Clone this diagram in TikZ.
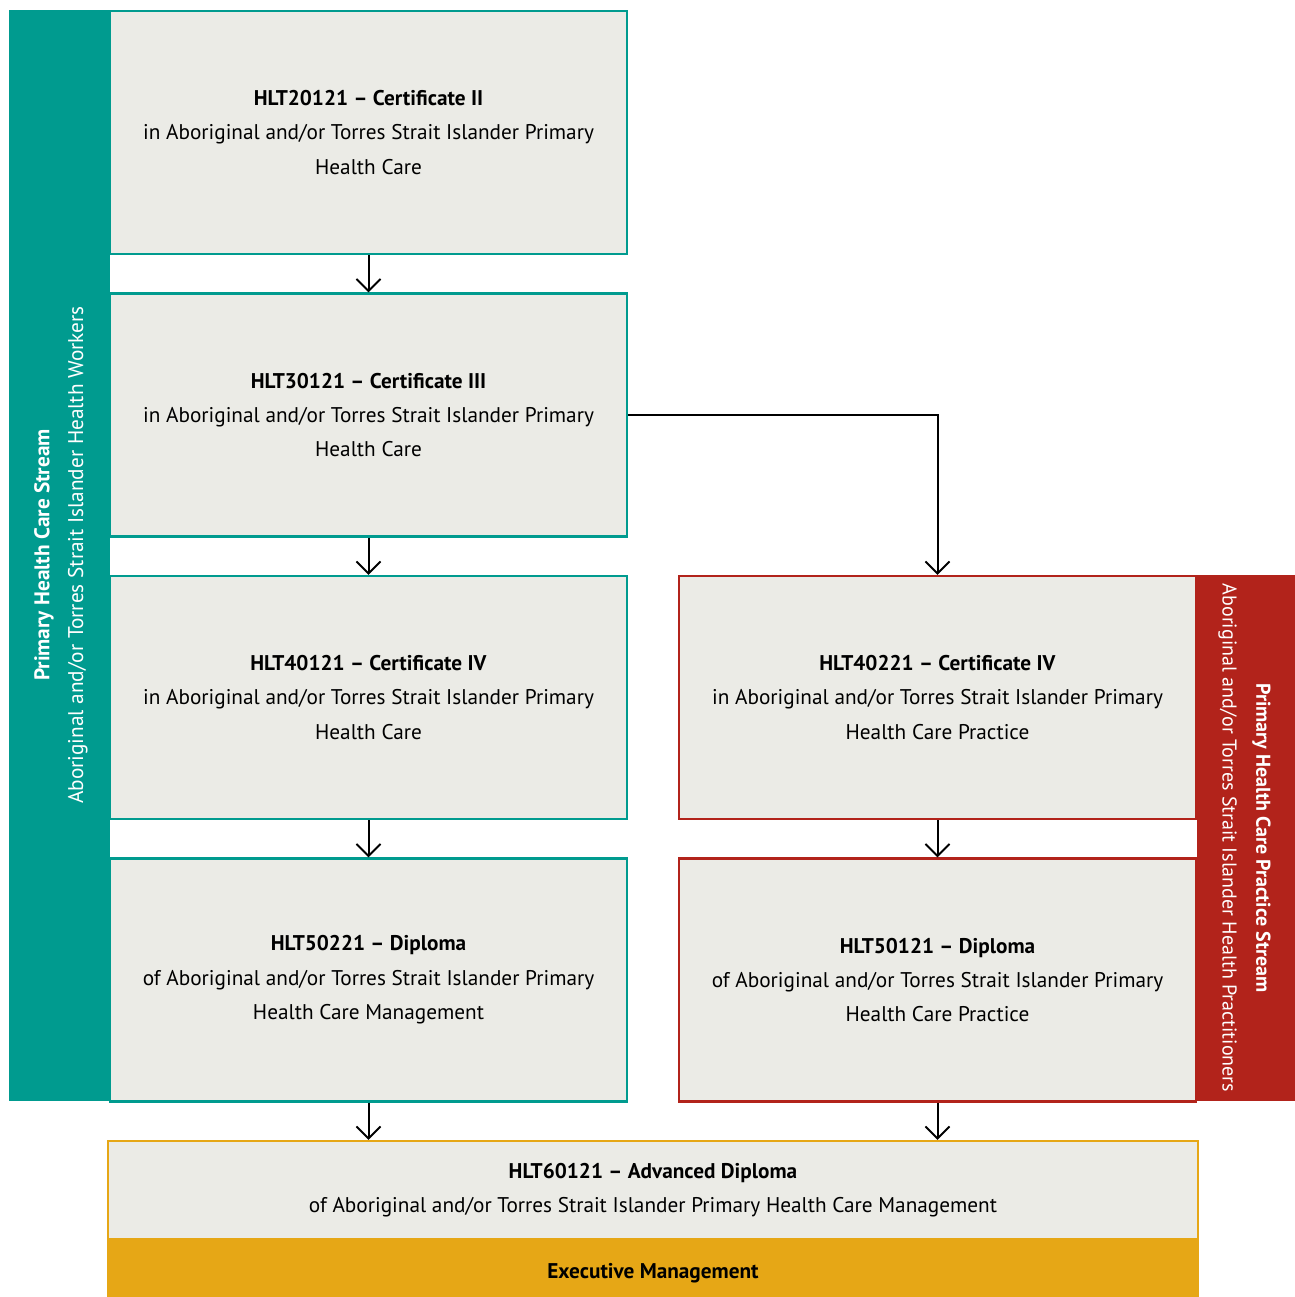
\documentclass[tikz,border=0pt]{standalone}
\usepackage{fontspec}
\setmainfont{PT Sans}
\usetikzlibrary{arrows.meta, positioning}

\definecolor{streamteal}{RGB}{0,155,143}
\definecolor{streamred}{RGB}{178,35,27}
\definecolor{execgold}{RGB}{230,167,22}
\definecolor{boxgrey}{RGB}{235,235,230}

\begin{document}
\begin{tikzpicture}[>={Straight Barb[length=2.4mm,width=4.8mm]}, node distance=0.745cm]
    \tikzstyle{qual} = [draw, line width=0.045cm, fill=boxgrey, minimum width=10.34cm,
	minimum height=4.86cm, inner sep=0pt, align=center, font=\fontsize{12.1}{19.6}\selectfont]
    \tikzstyle{strm} = [text=white, align=center, inner sep=0pt, font=\fontsize{12.1}{19.2}\selectfont]

		\useasboundingbox (0,0) rectangle (25.9,-25.94);

		% stream bars
		\fill[streamteal] (0.18,-0.2) rectangle (2.2,-22.02);
		\fill[streamred] (23.94,-11.5) rectangle (25.9,-22.02);
		\node[strm, rotate=90] (lstream) at (1.22,-11.1)
			{\textbf{Primary Health Care Stream}\\Aboriginal and/or Torres Strait Islander Health Workers};
		\node[strm, rotate=-90, font=\fontsize{11.4}{19.2}\selectfont] (rstream) at (24.89,-16.76)
			{\textbf{Primary Health Care Practice Stream}\\Aboriginal and/or Torres Strait Islander Health Practitioners};

		\path[->, line width=0.04cm]
			node[qual, draw=streamteal] (t1) at (7.37,-2.65)
				{\textbf{HLT20121 -- Certificate II}\\in Aboriginal and/or Torres Strait Islander Primary\\Health Care}
			node[qual, draw=streamteal, below=of t1] (t2)
				{\textbf{HLT30121 -- Certificate III}\\in Aboriginal and/or Torres Strait Islander Primary\\Health Care}
			node[qual, draw=streamteal, below=of t2] (t3)
				{\textbf{HLT40121 -- Certificate IV}\\in Aboriginal and/or Torres Strait Islander Primary\\Health Care}
			node[qual, draw=streamteal, below=of t3] (t4)
				{\textbf{HLT50221 -- Diploma}\\of Aboriginal and/or Torres Strait Islander Primary\\Health Care Management}
			node[qual, draw=streamred, right=0.995cm of t3] (r1)
				{\textbf{HLT40221 -- Certificate IV}\\in Aboriginal and/or Torres Strait Islander Primary\\Health Care Practice}
			node[qual, draw=streamred, below=of r1] (r2)
				{\textbf{HLT50121 -- Diploma}\\of Aboriginal and/or Torres Strait Islander Primary\\Health Care Practice}
			node[qual, draw=execgold, minimum width=21.8cm, minimum height=1.96cm] (adv) at (13.06,-23.8)
				{\textbf{HLT60121 -- Advanced Diploma}\\of Aboriginal and/or Torres Strait Islander Primary Health Care Management}
			node[qual, draw=execgold, fill=execgold, minimum width=21.8cm, minimum height=1.18cm,
				below=0pt of adv, text depth=0pt] (exec) {\textbf{Executive Management}}

			(t1) edge (t2)
			(t2) edge (t3)
			(t3) edge (t4)
			(r1) edge (r2)
			(t4.south) edge (t4.south |- adv.north)
			(r2.south) edge (r2.south |- adv.north)
		;
		\draw[->, line width=0.04cm] (t2.east) -| (r1.north);

\end{tikzpicture}
\end{document}
